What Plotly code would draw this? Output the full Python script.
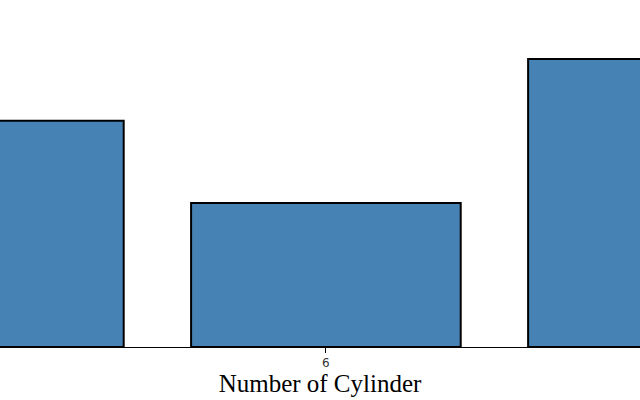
import plotly.graph_objects as go

cylinders = ["4", "6", "8"]
counts = [11, 7, 14]

fig = go.Figure(go.Bar(
    x=cylinders, y=counts,
    marker=dict(color="#4682B4", line=dict(color="black", width=2)),
))
fig.update_layout(
    width=640, height=400,
    margin=dict(l=0, r=0, t=0, b=53),
    plot_bgcolor="white", paper_bgcolor="white",
    bargap=0.2, showlegend=False,
)
fig.update_xaxes(
    type="category", range=[0.033, 1.932],
    showline=True, linecolor="black", linewidth=1,
    ticks="outside", ticklen=5, tickcolor="black",
    tickfont=dict(family="DejaVu Sans", size=12, color="#333"),
    title=dict(text="Number of Cylinder", font=dict(family="Liberation Serif", size=25, color="black"), standoff=4),
    showgrid=False,
)
fig.update_yaxes(range=[0, 16.87], visible=False, showgrid=False)
fig.write_html("out.html", config={"displayModeBar": False},
               post_script="document.body.style.margin='0';")
